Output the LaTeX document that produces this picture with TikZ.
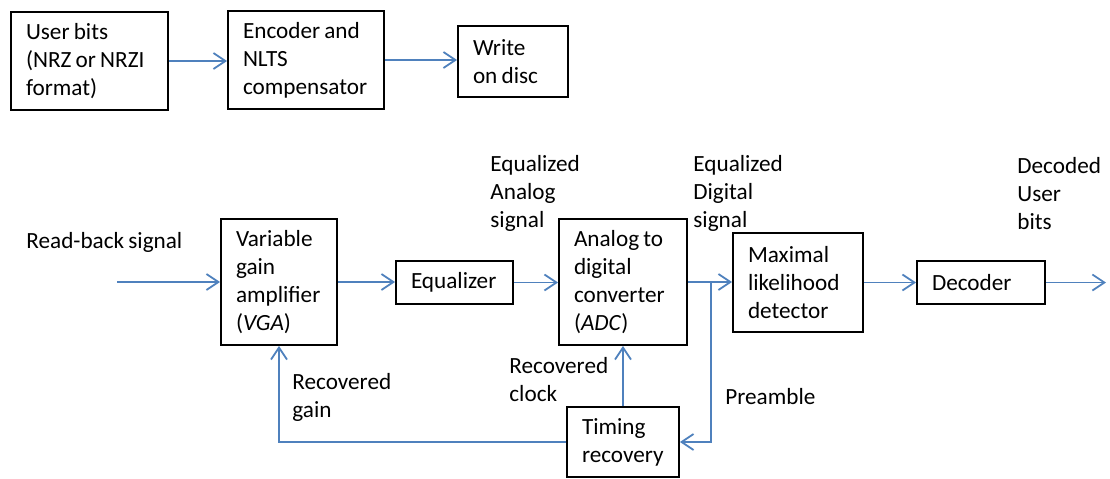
\documentclass[tikz,border=0pt]{standalone}
\usepackage{fontspec}
\setmainfont{Carlito}[WordSpace=0.8]
\usetikzlibrary{arrows.meta}
\definecolor{linkblue}{RGB}{79,129,189}
\begin{document}
\begin{tikzpicture}[x=0.5pt,y=-0.5pt,
  font=\fontsize{11.6}{14}\selectfont,
  block/.style n args={3}{draw, line width=0.9pt, inner xsep=7.5pt, inner ysep=0pt,
    minimum width=#1, minimum height=#2, text width=#3, align=flush left},
  link/.style={draw=linkblue, line width=0.9pt,
    -{Straight Barb[length=6pt,width=8pt,line width=0.9pt]}},
  note/.style={inner sep=0pt, anchor=west, align=flush left}]
\useasboundingbox (0,0) rectangle (1110,478);

% write path
\node[block={78.5pt}{49pt}{63.5pt}] (ub) at (89.5,61) {User bits\\(NRZ or NRZI\\format)};
\node[block={78pt}{49pt}{63pt}] (enc) at (306,60) {Encoder and\\NLTS\\compensator};
\node[block={55pt}{35.5pt}{40pt}] (wr) at (513,61.5) {Write\\on disc};

\draw[link] (ub.east) -- (ub.east -| enc.west);
\draw[link] (enc.east) -- (enc.east -| wr.west);

% read path
\node[block={58pt}{63pt}{43pt}] (vga) at (279,282) {Variable\\gain\\amplifier\\(\textit{VGA})};
\node[block={58.5pt}{21.5pt}{43.5pt}] (eq) at (454.5,282.5) {Equalizer};
\node[block={64pt}{63pt}{49pt}] (adc) at (623,282) {Analog to\\digital\\converter\\(\textit{ADC})};
\node[block={65pt}{49.5pt}{50pt}] (ml) at (798,282.5) {Maximal\\likelihood\\detector};
\node[block={64pt}{21.5pt}{49pt}] (dec) at (981,282.5) {Decoder};
\node[block={56pt}{35pt}{41pt}] (tim) at (623,442) {Timing\\recovery};

\coordinate (in) at (117,282);
\coordinate (out) at (1106,282);
\coordinate (br) at (711,282);

\draw[link] (in) -- (vga.west);
\draw[link] (vga.east) -- (vga.east -| eq.west);
\draw[link] (eq.east) -- (eq.east -| adc.west);
\draw[link] (adc.east) -- (adc.east -| ml.west);
\draw[link] (ml.east) -- (ml.east -| dec.west);
\draw[link] (dec.east) -- (dec.east -| out);
\draw[link] (br) |- (tim.east);
\draw[link] (tim.north) -- (adc.south);
\draw[link] (tim.west) -| (vga.south);

% signal labels
\node[note] (rb) at (26,242) {Read-back signal};
\node[note] (eal) at (490,193) {Equalized\\Analog\\signal};
\node[note] (edl) at (693,193) {Equalized\\Digital\\signal};
\node[note] (dul) at (1017,194) {Decoded\\User\\bits};
\node[note] (rgl) at (292,397) {Recovered\\gain};
\node[note] (rcl) at (509,380) {Recovered\\clock};
\node[note] (pre) at (725,397) {Preamble};
\end{tikzpicture}
\end{document}
